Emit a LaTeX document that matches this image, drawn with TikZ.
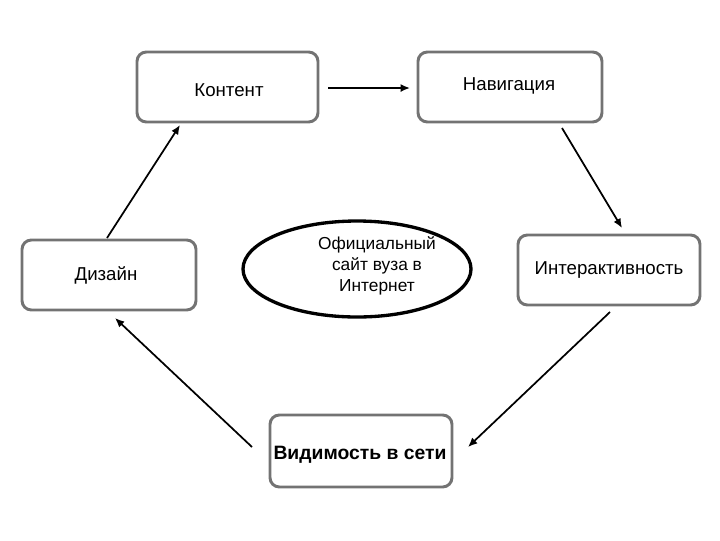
\documentclass[tikz,border=0pt]{standalone}
\usepackage{fontspec}
\setmainfont{Liberation Sans}
\usetikzlibrary{arrows.meta}
\begin{document}
\begin{tikzpicture}[x=0.75pt,y=-0.75pt,
  box/.style={draw=black!55,line width=2.2pt,rounded corners=7pt,fill=white},
  lbl/.style={font=\fontsize{14}{16}\selectfont},
  conn/.style={line width=1.3pt,-{Latex[length=7pt,width=6pt]}}]
\useasboundingbox (0,0) rectangle (720,540);
\draw[box] (137,52) rectangle (318,122);
\draw[box] (418,52) rectangle (602,122);
\draw[box] (518,235) rectangle (700,305);
\draw[box] (22,240) rectangle (196,310);
\draw[box] (270,415) rectangle (452,487);
\node[lbl] (kon) at (229,90) {Контент};
\node[lbl] (nav) at (509,86) {Навигация};
\node[lbl] (int) at (609,270) {Интерактивность};
\node[lbl] (diz) at (106,275) {Дизайн};
\node[lbl,font=\fontsize{14.5}{16}\bfseries] (vid) at (360,455) {Видимость в сети};
\draw[line width=2.5pt] (357,269) ellipse [x radius=114, y radius=48];
\node[align=center,font=\fontsize{13}{16}\selectfont] (site) at (377,266) {Официальный\\сайт вуза в\\Интернет};
\coordinate (a1) at (328,88); \coordinate (a2) at (410,88);
\coordinate (b1) at (562,128); \coordinate (b2) at (622,228);
\coordinate (c1) at (610,312); \coordinate (c2) at (468,447);
\coordinate (d1) at (252,447); \coordinate (d2) at (115,318);
\coordinate (e1) at (107,238); \coordinate (e2) at (180,125);
\draw[conn] (a1) -- (a2);
\draw[conn] (b1) -- (b2);
\draw[conn] (c1) -- (c2);
\draw[conn] (d1) -- (d2);
\draw[conn] (e1) -- (e2);
\end{tikzpicture}
\end{document}
